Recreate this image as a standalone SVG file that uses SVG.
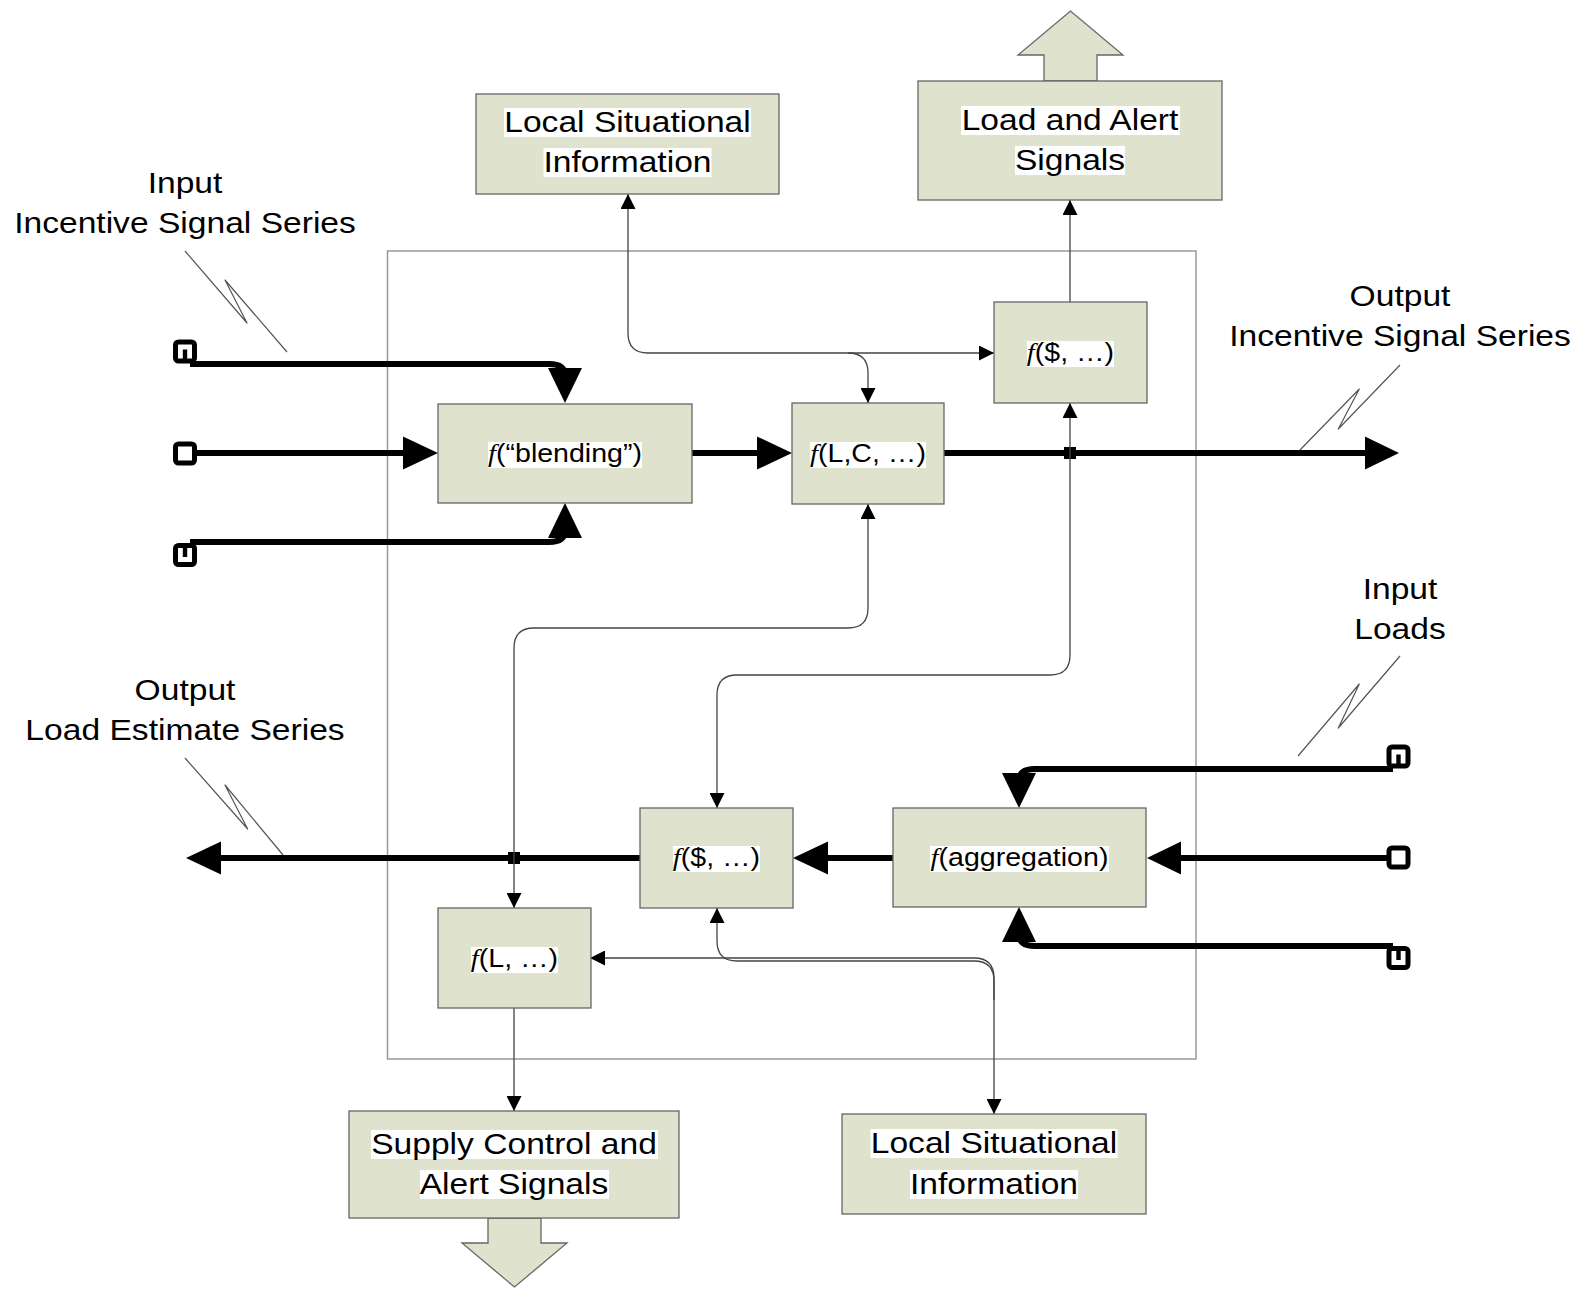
<svg xmlns="http://www.w3.org/2000/svg" xmlns:xlink="http://www.w3.org/1999/xlink" width="1595" height="1290" viewBox="0 0 1595 1290">
<style>
.box{fill:#DFE3CD;stroke:#666;stroke-width:1.3}
.lbl{font-family:"Liberation Sans",Arial,sans-serif;font-size:30px;text-anchor:middle;fill:#000}
.fn{font-size:25.5px}
.fi{font-family:"Liberation Serif","Times New Roman",serif;font-style:italic}
.hl{fill:#fff}
.thin{fill:none;stroke:#444;stroke-width:1.3}
.thick{fill:none;stroke:#000;stroke-width:6}
.head{fill:#000}
.bolt{fill:none;stroke:#555;stroke-width:1.2;stroke-linejoin:round}
.frame{fill:none;stroke:#999;stroke-width:1.5}
.term{fill:#fff;stroke:#000;stroke-width:5}
</style>
<defs>
<marker id="ah" viewBox="0 0 15 15" refX="15" refY="7.5" markerWidth="15" markerHeight="15" markerUnits="userSpaceOnUse" orient="auto-start-reverse"><path d="M0,0 L15,7.5 L0,15 z" fill="#000"/></marker>
<g id="termN"><rect class="term" x="-9.5" y="-9.5" width="19" height="19" rx="3"/><rect x="-2.2" y="-2" width="4.4" height="10" fill="#000"/></g>
<g id="termU"><rect class="term" x="-9.5" y="-9.5" width="19" height="19" rx="3"/><rect x="-2.2" y="-8" width="4.4" height="10" fill="#000"/></g>
<g id="termO"><rect class="term" x="-9.5" y="-9.5" width="19" height="19" rx="3"/></g>
</defs>
<rect width="1595" height="1290" fill="#fff"/>
<rect id="frame" class="frame" x="387.5" y="251" width="808.5" height="808"/>

<g id="labels">
<text class="lbl" transform="translate(185,193) scale(1.12,1)">Input</text>
<text class="lbl" transform="translate(185,233) scale(1.12,1)">Incentive Signal Series</text>
<text class="lbl" transform="translate(1400,306) scale(1.12,1)">Output</text>
<text class="lbl" transform="translate(1400,346) scale(1.12,1)">Incentive Signal Series</text>
<text class="lbl" transform="translate(185,700) scale(1.12,1)">Output</text>
<text class="lbl" transform="translate(185,740) scale(1.12,1)">Load Estimate Series</text>
<text class="lbl" transform="translate(1400,599) scale(1.12,1)">Input</text>
<text class="lbl" transform="translate(1400,639) scale(1.12,1)">Loads</text>
<polyline class="bolt" points="185,251 247,323 225,280 287,352"/>
<polyline class="bolt" points="1400,365 1338.3,429 1359.3,389 1300,450"/>
<polyline class="bolt" points="185,758 247.7,829 225,785 283,855"/>
<polyline class="bolt" points="1400,656 1338.3,728 1359.3,684 1298,756"/>
</g>

<g id="connectors">
<path class="thick" d="M190 364 H549 Q565 364 565 376"/><polygon class="head" points="548,368 582,368 565,403"/>
<path class="thick" d="M197 453 H405"/><polygon class="head" points="403,436.5 403,469.5 438,453"/>
<path class="thick" d="M190 542 H549 Q565 542 565 530"/><polygon class="head" points="548,538 582,538 565,503"/>
<path class="thick" d="M692 453 H759"/><polygon class="head" points="757,436.5 757,469.5 792,453"/>
<path class="thick" d="M944 453 H1367"/><polygon class="head" points="1365,436.5 1365,469.5 1399,453"/>
<path class="thick" d="M1393 769 H1035 Q1019 769 1019 781"/><polygon class="head" points="1002,773 1036,773 1019,808"/>
<path class="thick" d="M1387 858 H1179"/><polygon class="head" points="1181,841.5 1181,874.5 1147,858"/>
<path class="thick" d="M1393 946 H1035 Q1019 946 1019 934"/><polygon class="head" points="1002,942 1036,942 1019,907"/>
<path class="thick" d="M893 858 H826"/><polygon class="head" points="828,841.5 828,874.5 793,858"/>
<path class="thick" d="M640 858 H219"/><polygon class="head" points="221,841.5 221,874.5 186,858"/>
<rect x="1064" y="447" width="12" height="12" fill="#000"/>
<rect x="508" y="852" width="12" height="12" fill="#000"/>
<path class="thin" d="M628 194 V333 Q628 353 648 353 H994" marker-start="url(#ah)" marker-end="url(#ah)"/>
<path class="thin" d="M848 353 Q868 353 868 373 V403" marker-end="url(#ah)"/>
<path class="thin" d="M1070 302 V200" marker-end="url(#ah)"/>
<path class="thin" d="M1070 453 V403" marker-end="url(#ah)"/>
<path class="thin" d="M1070 453 V655 Q1070 675 1050 675 H737 Q717 675 717 695 V808" marker-end="url(#ah)"/>
<path class="thin" d="M514 858 V908" marker-end="url(#ah)"/>
<path class="thin" d="M514 858 V648 Q514 628 534 628 H848 Q868 628 868 608 V504" marker-end="url(#ah)"/>
<path class="thin" d="M514 1008 V1111" marker-end="url(#ah)"/>
<path class="thin" d="M590 958 H974 Q994 958 994 978 V1114" marker-start="url(#ah)" marker-end="url(#ah)"/>
<path class="thin" d="M717 908 V941 Q717 961 737 961 H974 Q994 961 994 981 V1000" marker-start="url(#ah)"/>
<use xlink:href="#termN" x="185" y="351.5"/>
<use xlink:href="#termO" x="185" y="453.5"/>
<use xlink:href="#termU" x="185" y="555"/>
<use xlink:href="#termN" x="1398.5" y="756.5"/>
<use xlink:href="#termO" x="1398.5" y="857.5"/>
<use xlink:href="#termU" x="1398.5" y="958"/>
</g>

<g id="local-info-top">
<rect class="box" x="476" y="94" width="303" height="100"/>
<rect class="hl" x="504" y="108" width="247" height="29"/>
<rect class="hl" x="543.5" y="148" width="168" height="29"/>
<text class="lbl" transform="translate(627.5,132) scale(1.12,1)">Local Situational</text>
<text class="lbl" transform="translate(627.5,172) scale(1.12,1)">Information</text>
</g>

<g id="load-alert">
<polygon class="box" points="1044,81 1044,55 1018,55 1070.5,11 1123,55 1097,55 1097,81"/>
<rect class="box" x="918" y="81" width="304" height="119"/>
<rect class="hl" x="961" y="106" width="219" height="29"/>
<rect class="hl" x="1015" y="146" width="110" height="29"/>
<text class="lbl" transform="translate(1070,130) scale(1.12,1)">Load and Alert</text>
<text class="lbl" transform="translate(1070,170) scale(1.12,1)">Signals</text>
</g>

<g id="f-blending">
<rect class="box" x="438" y="404" width="254" height="99"/>
<rect class="hl" x="488" y="442" width="154" height="26"/>
<text class="lbl fn" transform="translate(565,462) scale(1.12,1)"><tspan class="fi">f</tspan>(“blending”)</text>
</g>

<g id="f-LC">
<rect class="box" x="792" y="403" width="152" height="101"/>
<rect class="hl" x="810" y="442" width="116" height="26"/>
<text class="lbl fn" transform="translate(868,462) scale(1.12,1)"><tspan class="fi">f</tspan>(L,C, …)</text>
</g>

<g id="f-dollar-top">
<rect class="box" x="994" y="302" width="153" height="101"/>
<rect class="hl" x="1027" y="341" width="87" height="26"/>
<text class="lbl fn" transform="translate(1070.5,361) scale(1.12,1)"><tspan class="fi">f</tspan>($, …)</text>
</g>

<g id="f-aggregation">
<rect class="box" x="893" y="808" width="253" height="99"/>
<rect class="hl" x="930" y="846" width="179" height="26"/>
<text class="lbl fn" transform="translate(1019.5,866) scale(1.12,1)"><tspan class="fi">f</tspan>(aggregation)</text>
</g>

<g id="f-dollar-bottom">
<rect class="box" x="640" y="808" width="153" height="100"/>
<rect class="hl" x="673" y="846" width="87" height="26"/>
<text class="lbl fn" transform="translate(716.5,866) scale(1.12,1)"><tspan class="fi">f</tspan>($, …)</text>
</g>

<g id="f-L">
<rect class="box" x="438" y="908" width="153" height="100"/>
<rect class="hl" x="471" y="947" width="87" height="26"/>
<text class="lbl fn" transform="translate(514.5,967) scale(1.12,1)"><tspan class="fi">f</tspan>(L, …)</text>
</g>

<g id="supply-control">
<polygon class="box" points="488,1218 488,1243 462,1243 514.5,1287 567,1243 541,1243 541,1218"/>
<rect class="box" x="349" y="1111" width="330" height="107"/>
<rect class="hl" x="371" y="1130" width="287" height="29"/>
<rect class="hl" x="420" y="1170" width="189" height="29"/>
<text class="lbl" transform="translate(514,1154) scale(1.12,1)">Supply Control and</text>
<text class="lbl" transform="translate(514,1194) scale(1.12,1)">Alert Signals</text>
</g>

<g id="local-info-bottom">
<rect class="box" x="842" y="1114" width="304" height="100"/>
<rect class="hl" x="870.5" y="1129" width="247" height="29"/>
<rect class="hl" x="910" y="1170" width="168" height="29"/>
<text class="lbl" transform="translate(994,1153) scale(1.12,1)">Local Situational</text>
<text class="lbl" transform="translate(994,1194) scale(1.12,1)">Information</text>
</g>
</svg>
